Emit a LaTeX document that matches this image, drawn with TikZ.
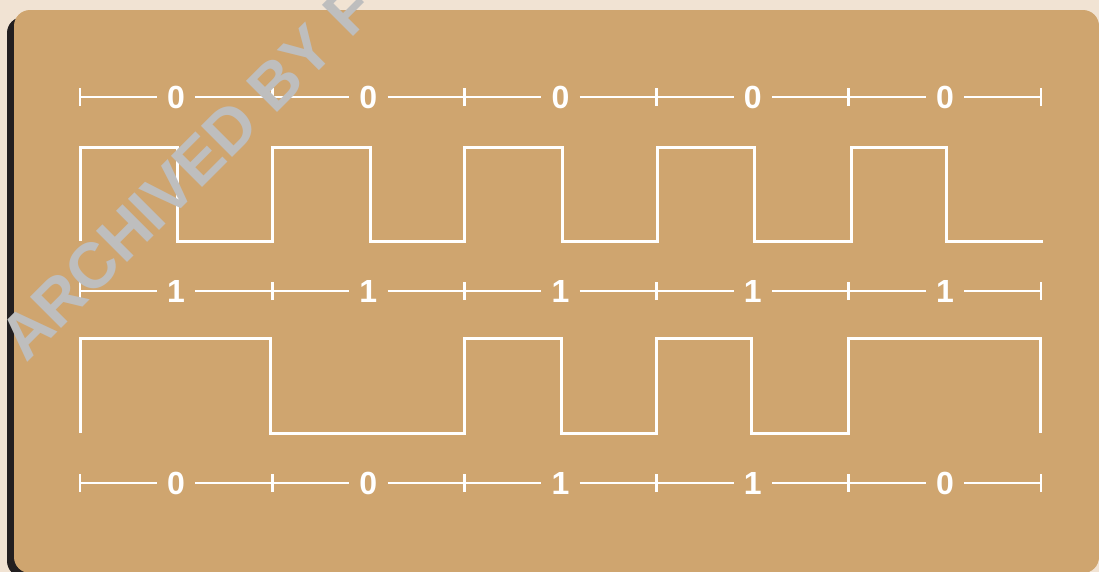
\documentclass[tikz,border=0pt]{standalone}
\usepackage{fontspec}
\setmainfont{Liberation Sans}
\usetikzlibrary{positioning}
\definecolor{paper}{HTML}{F1E3D3}
\definecolor{boardtan}{HTML}{CFA56F}
\definecolor{edgeblack}{HTML}{231F20}
\definecolor{markgrey}{HTML}{BEBEBE}

\begin{document}
\begin{tikzpicture}[x=1pt,y=-1pt,
  bit/.style={fill=boardtan,text=white,font=\fontsize{32}{32}\selectfont\bfseries,inner sep=0pt,minimum width=38pt},
  scaleline/.style={white,line width=2.8pt},
  wave/.style={white,line width=3pt},
  mark label/.style={text=markgrey,font=\fontsize{64}{64}\selectfont\bfseries,inner sep=0pt}]

  \useasboundingbox (0,0) rectangle (1099,571);
  \clip (0,0) rectangle (1099,571);
  \fill[paper] (-5,-5) rectangle (1105,580);
  \fill[edgeblack,rounded corners=16pt] (7,17) rectangle (1093,577);
  \fill[boardtan,rounded corners=16pt] (14,10) rectangle (1099,573);

  % bit scales
  \foreach \row/\y/\bits in {top/97/{0,0,0,0,0}, mid/291/{1,1,1,1,1}, low/483/{0,0,1,1,0}}{
    \coordinate (\row-t0) at (80,\y);
    \draw[scaleline] ([yshift=-9pt]\row-t0) -- ([yshift=9pt]\row-t0);
    \foreach \b [count=\i] in \bits {
      \pgfmathsetmacro\xt{80+192.2*\i}
      \pgfmathtruncatemacro\j{\i-1}
      \node[bit] (\row-\i) at (\xt-96.1,\y) {\b};
      \coordinate (\row-t\i) at (\xt,\y);
      \draw[scaleline] (\row-t\j) -- (\row-\i) -- (\row-t\i);
      \draw[scaleline] ([yshift=-9pt]\row-t\i) -- ([yshift=9pt]\row-t\i);
    }
  }

  % upper waveform
  \draw[wave] (80,241) |- (177,147) |- (272,241) |- (370,147) |- (464,241) |- (562,147)
    |- (657,241) |- (754,147) |- (851,241) |- (946,147) |- (1043,241);
  % lower waveform
  \draw[wave] (80,433) |- (270,338) |- (464,433) |- (561,338) |- (656,433) |- (751,338)
    |- (848,433) |- (1040,338) -- (1040,433);

  \node[mark label,rotate=45,anchor=base west] (mark) at (26,364) {ARCHIVED BY F};
\end{tikzpicture}
\end{document}
